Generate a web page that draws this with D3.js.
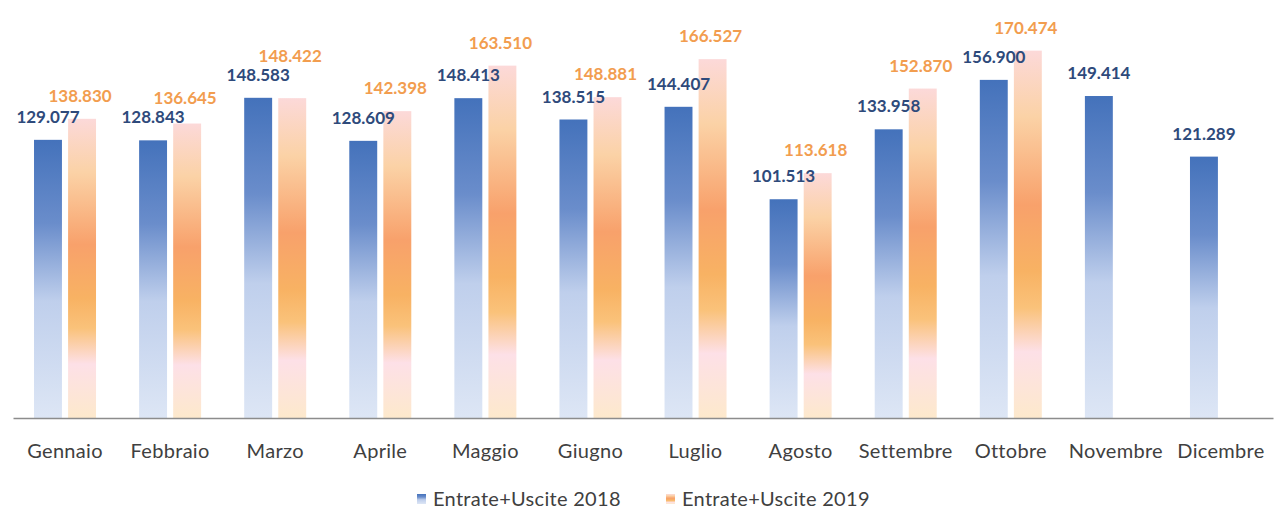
<!DOCTYPE html>
<html>
<head>
<meta charset="utf-8">
<script src="https://cdn.jsdelivr.net/npm/d3@7"></script>
<style>
  body { margin: 0; background: #fff; }
  svg { display: block; font-family: Lato, 'Noto Sans', sans-serif; }
</style>
</head>
<body>
<div id="chart"></div>
<script>
const months = ['Gennaio', 'Febbraio', 'Marzo', 'Aprile', 'Maggio', 'Giugno',
  'Luglio', 'Agosto', 'Settembre', 'Ottobre', 'Novembre', 'Dicembre'];
const series = ['Entrate+Uscite 2018', 'Entrate+Uscite 2019'];
const values2018 = [129.077, 128.843, 148.583, 128.609, 148.413, 138.515,
  144.407, 101.513, 133.958, 156.900, 149.414, 121.289];
const values2019 = [138.830, 136.645, 148.422, 142.398, 163.510, 148.881,
  166.527, 113.618, 152.870, 170.474, null, null];

const width = 1274;
const height = 510;
const margin = { top: 30, right: 1, bottom: 92, left: 13 };

const data = months.map((m, i) => ({
  month: m,
  bars: [
    { key: 0, value: values2018[i] },
    { key: 1, value: values2019[i] }
  ].filter(d => d.value != null)
}));

const svg = d3.select('#chart')
  .append('svg')
  .attr('width', width)
  .attr('height', height);

const defs = svg.append('defs');

const blueGrad = defs.append('linearGradient')
  .attr('id', 'grad0')
  .attr('x1', 0).attr('y1', 0).attr('x2', 0).attr('y2', 1);
[[0, '#4472bb'], [0.3, '#6a8dcb'], [0.58, '#bfcfec'], [1, '#dde6f5']]
  .forEach(([o, c]) => blueGrad.append('stop').attr('offset', o).attr('stop-color', c));

const orangeGrad = defs.append('linearGradient')
  .attr('id', 'grad1')
  .attr('x1', 0).attr('y1', 0).attr('x2', 0).attr('y2', 1);
[[0, '#fcd9d9'], [0.18, '#fbd2a6'], [0.42, '#f8a16b'], [0.6, '#f8b263'],
  [0.7, '#fac27a'], [0.82, '#fde0e7'], [1, '#fde9cc']]
  .forEach(([o, c]) => orangeGrad.append('stop').attr('offset', o).attr('stop-color', c));

const axisY = height - margin.bottom;

const x0 = d3.scaleBand()
  .domain(months)
  .range([margin.left, width - margin.right])
  .paddingInner(0.41)
  .paddingOuter(0.2);

const x1 = d3.scaleBand()
  .domain([0, 1])
  .range([0, x0.bandwidth()])
  .paddingInner(0.18);

const y = d3.scaleLinear()
  .domain([0, 180])
  .range([axisY, axisY - 180 * 2.155]);

const fmt = d3.format('.3f');
const labelColors = ['#2e4a7b', '#f29d4f'];

// label baselines: 2019 label is pushed above the 2018 one so they don't collide
const gap = 17;
data.forEach(d => {
  const b = d.bars[0];
  b.ly = y(b.value) - gap;
  if (d.bars[1]) {
    const o = d.bars[1];
    o.ly = Math.min(y(o.value) - gap, b.ly - 19);
  }
});

const groups = svg.append('g')
  .selectAll('g')
  .data(data)
  .enter()
  .append('g')
  .attr('transform', d => `translate(${x0(d.month)},0)`);

groups.selectAll('rect')
  .data(d => d.bars)
  .enter()
  .append('rect')
  .attr('x', d => x1(d.key))
  .attr('y', d => y(d.value))
  .attr('width', x1.bandwidth())
  .attr('height', d => axisY - y(d.value))
  .style('fill', d => `url(#grad${d.key})`);

groups.selectAll('text')
  .data(d => d.bars)
  .enter()
  .append('text')
  .attr('x', d => x1(d.key) + x1.bandwidth() / 2 + (d.key ? -2 : 0))
  .attr('y', d => d.ly)
  .attr('text-anchor', 'middle')
  .style('font-size', '17px')
  .style('font-weight', 'bold')
  .style('fill', d => labelColors[d.key])
  .text(d => fmt(d.value));

// x axis
const xAxis = svg.append('g')
  .attr('transform', `translate(0,${axisY})`)
  .call(d3.axisBottom(x0).tickSize(0).tickPadding(26));
xAxis.select('.domain')
  .attr('stroke', '#8c8c8c')
  .attr('stroke-width', 1.5);
xAxis.selectAll('text')
  .style('font-family', 'Lato, sans-serif')
  .style('font-size', '20px')
  .style('letter-spacing', '0.3px')
  .style('fill', '#404040');

// legend
const legendX = [417, 666];
const legend = svg.append('g')
  .selectAll('g')
  .data(series)
  .enter()
  .append('g')
  .attr('transform', (d, i) => `translate(${legendX[i]},506)`);

legend.append('rect')
  .attr('x', 0)
  .attr('y', -12)
  .attr('width', 9)
  .attr('height', 10)
  .style('fill', (d, i) => `url(#grad${i})`);

legend.append('text')
  .attr('x', 16)
  .attr('y', 0)
  .style('font-size', '20px')
  .style('letter-spacing', '0.3px')
  .style('fill', '#404040')
  .text(d => d);
</script>
</body>
</html>
